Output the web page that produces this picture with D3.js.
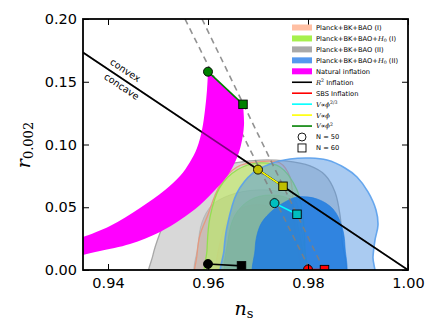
<!DOCTYPE html>
<html><head><meta charset="utf-8">
<script src="https://cdn.jsdelivr.net/npm/d3@7"></script>
<style>body{margin:0;background:#fff}svg{display:block}</style>
</head><body><svg id="c" width="437" height="332"></svg>
<script>
// ---------- DATA ----------
const xTicks = [0.94, 0.96, 0.98, 1.00];
const yTicks = [0.00, 0.05, 0.10, 0.15, 0.20];

// Planck+BK+BAO (II)  (gray)
const grayOuter = [[.9484,-.01],[.9490,.012],[.9504,.0295],[.9524,.0478],[.9544,.0598],[.9574,.0717],[.9604,.0797],[.9654,.0853],[.9704,.0876],[.9754,.0869],[.9804,.0829],[.9834,.0757],[.9854,.0622],[.9864,.0438],[.9868,.0239],[.9868,-.01]];
const grayInner = [[.9578,-.01],[.9580,.0199],[.9588,.0382],[.9608,.0518],[.9644,.0598],[.9694,.0637],[.9744,.0622],[.9774,.0558],[.9784,.0399],[.9784,-.01]];
// Planck+BK+BAO (I)  (salmon)
const salmonOuter = [[.9578,-.01],[.9578,.012],[.9584,.0279],[.9598,.0422],[.9624,.0677],[.9658,.0821],[.9698,.0861],[.9744,.0853],[.9764,.0741],[.9770,.0534],[.9774,.0295],[.9778,-.01]];
const salmonInner = [[.9624,-.01],[.9626,.025],[.9650,.045],[.9700,.052],[.9745,.045],[.9760,.025],[.9762,-.01]];
// Planck+BK+BAO+H0 (I)  (green)
const greenOuter = [[.9598,-.01],[.9598,.0159],[.9604,.0422],[.9624,.0661],[.9658,.0797],[.9704,.0853],[.9744,.0821],[.9778,.0637],[.9790,.0422],[.9794,.0159],[.9794,-.01]];
const greenInner = [[.9640,-.01],[.9640,.0239],[.9654,.0438],[.9684,.0558],[.9724,.0598],[.9764,.0558],[.9780,.0359],[.9784,-.01]];
// Planck+BK+BAO+H0 (II)  (blue)
const blueOuter = [[.9630,-.01],[.9632,.0159],[.9638,.0343],[.9658,.0614],[.9690,.0773],[.9724,.0845],[.9764,.0884],[.9804,.0892],[.9838,.0876],[.9874,.0813],[.9898,.0741],[.9920,.0622],[.9936,.0478],[.9940,.0359],[.9934,.0239],[.9930,.0104],[.9930,-.01]];
const blueInner = [[.9694,-.01],[.9694,.0159],[.9698,.0279],[.9708,.0382],[.9730,.0478],[.9754,.0542],[.9778,.0582],[.9818,.0566],[.9850,.0486],[.9868,.0343],[.9874,.0183],[.9870,-.01]];

// Natural inflation band edges
const naturalUpper = [[.9330,.0240],[.9350,.0263],[.9404,.0351],[.9464,.0494],[.9514,.0637],[.9544,.0749],[.9564,.0861],[.9578,.0972],[.9588,.1116],[.9594,.1275],[.9598,.1434],[.9600,.1578]];
const naturalLower = [[.9670,.1320],[.9672,.1155],[.9666,.0996],[.9656,.0876],[.9640,.0757],[.9614,.0637],[.9584,.0518],[.9544,.0398],[.9504,.0303],[.9444,.0207],[.9384,.0151],[.9350,.0120],[.9330,.0105]];

// convex / concave boundary and dashed constraint lines
const boundaryLine = [[0.935, 0.1733], [1.0, 0.0]];
const dashedA = [[0.9554, 0.20], [0.9804, 0.0]];
const dashedB = [[0.9588, 0.20], [0.9832, 0.0]];

// model predictions: [N=50, N=60]
const modelNames  = ["R2", "SBS", "phi23", "phi", "phi2"];
const modelN50    = [[0.9600,0.0048],[0.9800,0.0004],[0.9733,0.0533],[0.9700,0.0800],[0.9600,0.1580]];
const modelN60    = [[0.9667,0.0033],[0.9833,0.0003],[0.9778,0.0444],[0.9750,0.0667],[0.9670,0.1320]];
const modelLine   = ["#000000","#ff0000","#00ffff","#ffff00","#008000"];
const modelMarker = ["#000000","#ff0000","#00bfbf","#bfbf00","#008000"];

// legend
const legendKinds = ["patch","patch","patch","patch","patch","line","line","line","line","line","circle","square"];
const legendColors = ["#ffbfa3","#a6f04d","#a9a9a9","#5599ee","#ff00ff","#000000","#ff0000","#00ffff","#ffff00","#008000","#000","#000"];
const legendLabels = [
  [["Planck+BK+BAO (I)"]],
  [["Planck+BK+BAO+"],["H","i"],["0","sub"],[" (I)"]],
  [["Planck+BK+BAO (II)"]],
  [["Planck+BK+BAO+"],["H","i"],["0","sub"],[" (II)"]],
  [["Natural inflation"]],
  [["R","i"],["2","sup"],[" Inflation"]],
  [["SBS Inflation"]],
  [["V\u221D\u03D5","i"],["2/3","sup"]],
  [["V\u221D\u03D5","i"]],
  [["V\u221D\u03D5","i"],["2","sup"]],
  [["N = 50"]],
  [["N = 60"]]
];

// ---------- CHART ----------
const svg = d3.select("#c");
const L = 83, R = 408, T = 19, B = 270;
const x = d3.scaleLinear().domain([0.935, 1.0]).range([L, R]);
const y = d3.scaleLinear().domain([0, 0.2]).range([B, T]);

svg.append("defs").append("clipPath").attr("id","clip")
  .append("rect").attr("x",L).attr("y",T).attr("width",R-L).attr("height",B-T);
const g = svg.append("g").attr("clip-path","url(#clip)");

const closed = d3.line().x(d=>x(d[0])).y(d=>y(d[1])).curve(d3.curveCatmullRomClosed.alpha(0.5));
const open = d3.line().x(d=>x(d[0])).y(d=>y(d[1])).curve(d3.curveCatmullRom.alpha(0.5));
const straight = d3.line().x(d=>x(d[0])).y(d=>y(d[1]));

function contour(data, fill, fo, stroke, so, sw){
  g.append("path").attr("d", closed(data)).attr("fill", fill).attr("fill-opacity", fo)
   .attr("stroke", stroke).attr("stroke-opacity", so).attr("stroke-width", sw);
}
contour(grayOuter, "#a9a9a9", 0.45, "#a0a0a0", 0.9, 1.3);
contour(grayInner, "#8c8c8c", 0.3, "#8c8c8c", 0.3, 1);
contour(salmonOuter, "#ffa07a", 0.15, "#e8967a", 0.9, 1.3);
contour(salmonInner, "#ff8c69", 0.05, "#e8967a", 0.15, 1);
contour(greenOuter, "#b4ff46", 0.45, "#8ee04a", 0.9, 1.3);
contour(greenInner, "#7fc41f", 0.22, "#8ee04a", 0.4, 1);
contour(blueOuter, "#4a90e2", 0.47, "#5aa0ec", 0.9, 1.6);
contour(blueInner, "#1f7be0", 0.85, "#1f7be0", 0.6, 1);

// dashed lines
[dashedA, dashedB].forEach(d => {
  g.append("path").attr("d", straight(d)).attr("fill","none").attr("stroke","#7f7f7f")
   .attr("stroke-width",1.6).attr("stroke-dasharray","6,4.5").attr("stroke-opacity",0.85);
});

// boundary line (under magenta)
g.append("path").attr("d", straight(boundaryLine)).attr("fill","none").attr("stroke","#000").attr("stroke-width",1.6);

// natural inflation band
const up = open(naturalUpper);
const lo = open(naturalLower).replace(/^M/, "L");
g.append("path").attr("d", up + lo + "Z").attr("fill","#ff00ff").attr("stroke","none");

// boundary line again, half-transparent, so it shows purple through magenta
g.append("path").attr("d", straight(boundaryLine)).attr("fill","none").attr("stroke","#000").attr("stroke-width",1.6).attr("stroke-opacity",0.5);

// model lines and markers
modelNames.forEach((m,i) => {
  g.append("path").attr("d", straight([modelN50[i], modelN60[i]])).attr("fill","none")
   .attr("stroke", modelLine[i]).attr("stroke-width",1.6);
});
modelNames.forEach((m,i) => {
  g.append("circle").attr("cx", x(modelN50[i][0])).attr("cy", y(modelN50[i][1])).attr("r",4.5)
   .attr("fill", modelMarker[i]).attr("stroke","#000").attr("stroke-width",0.9);
  const s = 8.5;
  g.append("rect").attr("x", x(modelN60[i][0])-s/2).attr("y", y(modelN60[i][1])-s/2).attr("width",s).attr("height",s)
   .attr("fill", modelMarker[i]).attr("stroke","#000").attr("stroke-width",0.9);
});

// convex / concave labels
const ang = Math.atan2(y(boundaryLine[1][1]) - y(boundaryLine[0][1]), x(boundaryLine[1][0]) - x(boundaryLine[0][0])) * 180 / Math.PI;
const p0 = [x(boundaryLine[0][0]), y(boundaryLine[0][1])];
const lab = svg.append("g").attr("transform", `translate(${p0[0]},${p0[1]}) rotate(${ang})`);
lab.append("text").attr("x",45).attr("y",-5.5).attr("text-anchor","middle")
  .attr("font-family","DejaVu Sans").attr("font-size",9.5).text("convex");
lab.append("text").attr("x",51).attr("y",10).attr("text-anchor","middle")
  .attr("font-family","DejaVu Sans").attr("font-size",9.5).text("concave");

// axes
const fmt = d3.format(".2f");
const ax = svg.append("g").attr("transform",`translate(0,${B})`)
  .call(d3.axisBottom(x).tickValues(xTicks).tickSize(-6).tickSizeOuter(0).tickPadding(8).tickFormat(fmt));
const ay = svg.append("g").attr("transform",`translate(${L},0)`)
  .call(d3.axisLeft(y).tickValues(yTicks).tickSize(-6).tickSizeOuter(0).tickPadding(6).tickFormat(fmt));
const at = svg.append("g").attr("transform",`translate(0,${T})`)
  .call(d3.axisTop(x).tickValues(xTicks).tickSize(-6).tickSizeOuter(0).tickFormat(""));
const ar = svg.append("g").attr("transform",`translate(${R},0)`)
  .call(d3.axisRight(y).tickValues(yTicks).tickSize(-6).tickSizeOuter(0).tickFormat(""));
[ax,ay,at,ar].forEach(a => {
  a.select(".domain").remove();
  a.selectAll("line").attr("stroke","#000").attr("stroke-width",1);
  a.selectAll("text").attr("font-family","DejaVu Sans").attr("font-size",14.5).attr("fill","#000");
});
svg.append("rect").attr("x",L).attr("y",T).attr("width",R-L).attr("height",B-T)
  .attr("fill","none").attr("stroke","#000").attr("stroke-width",1.8);

// axis labels
const xl = svg.append("text").attr("x",244).attr("y",315).attr("text-anchor","middle")
  .attr("font-family","DejaVu Serif");
xl.append("tspan").attr("font-style","italic").attr("font-size",19).text("n");
xl.append("tspan").attr("font-size",13).attr("dy",3).text("s");
const yl = svg.append("text").attr("transform","translate(30,145) rotate(-90)").attr("text-anchor","middle")
  .attr("font-family","DejaVu Serif");
yl.append("tspan").attr("font-style","italic").attr("font-size",19).text("r");
yl.append("tspan").attr("font-size",13).attr("dy",3).text("0.002");

// legend
const lx = 292, lw = 20, ty0 = 27.5, step = 10.95, fs = 6.7;
const lg = svg.append("g");
legendKinds.forEach((k,i) => {
  const cy = ty0 + i*step;
  if (k === "patch") {
    lg.append("rect").attr("x",lx).attr("y",cy-3).attr("width",lw).attr("height",6).attr("fill",legendColors[i]);
  } else if (k === "line") {
    lg.append("line").attr("x1",lx).attr("x2",lx+lw).attr("y1",cy).attr("y2",cy)
      .attr("stroke",legendColors[i]).attr("stroke-width",1.6);
  } else if (k === "circle") {
    lg.append("circle").attr("cx",lx+lw/2).attr("cy",cy).attr("r",4).attr("fill","#fff").attr("stroke","#000").attr("stroke-width",0.9);
  } else {
    lg.append("rect").attr("x",lx+lw/2-4).attr("y",cy-4).attr("width",8).attr("height",8).attr("fill","#fff").attr("stroke","#000").attr("stroke-width",0.9);
  }
  const t = lg.append("text").attr("x",lx+lw+4).attr("y",cy+2.4)
    .attr("font-family","DejaVu Sans").attr("font-size",fs).attr("fill","#000");
  let shift = 0;
  legendLabels[i].forEach(seg => {
    const ts = t.append("tspan").text(seg[0]);
    const st = seg[1];
    let target = 0;
    if (st === "i") { ts.attr("font-family","DejaVu Serif").attr("font-style","italic"); }
    if (st === "sub") { ts.attr("font-size",fs*0.7).attr("font-family","DejaVu Serif"); target = 1.5; }
    if (st === "sup") { ts.attr("font-size",fs*0.7).attr("font-family","DejaVu Serif"); target = -2.5; }
    if (target !== shift) { ts.attr("dy", target - shift); shift = target; }
  });
});
</script></body></html>
